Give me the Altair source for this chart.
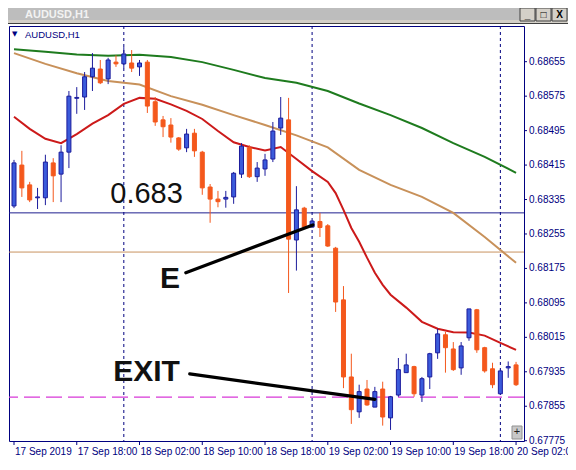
import altair as alt
import pandas as pd

# ---------------- data ----------------
bar_index = list(range(65))
open_ = [0.68320, 0.68415, 0.68369, 0.68339, 0.68339, 0.68420, 0.68394, 0.68445, 0.68570, 0.68573,
         0.68620, 0.68638, 0.68615, 0.68654, 0.68650, 0.68652, 0.68643, 0.68654, 0.68562, 0.68520,
         0.68508, 0.68478, 0.68455, 0.68489, 0.68445, 0.68364, 0.68336, 0.68336, 0.68341, 0.68394,
         0.68455, 0.68388, 0.68406, 0.68429, 0.68501, 0.68520, 0.68241, 0.68315, 0.68271, 0.68284,
         0.68274, 0.68222, 0.68102, 0.67923, 0.67842, 0.67895, 0.67853, 0.67895, 0.67828, 0.67881,
         0.67933, 0.67947, 0.67881, 0.67923, 0.67979, 0.68021, 0.67988, 0.67944, 0.68014, 0.68079,
         0.67991, 0.67942, 0.67884, 0.67944, 0.67951]
high = [0.68427, 0.68448, 0.68376, 0.68362, 0.68439, 0.68431, 0.68461, 0.68587, 0.68596, 0.68631,
        0.68675, 0.68659, 0.68664, 0.68670, 0.68689, 0.68682, 0.68659, 0.68659, 0.68573, 0.68529,
        0.68524, 0.68480, 0.68499, 0.68499, 0.68448, 0.68371, 0.68355, 0.68355, 0.68399, 0.68466,
        0.68461, 0.68422, 0.68441, 0.68515, 0.68573, 0.68571, 0.68366, 0.68318, 0.68286, 0.68304,
        0.68278, 0.68225, 0.68134, 0.67977, 0.67905, 0.67916, 0.67900, 0.67912, 0.67879, 0.67967,
        0.67977, 0.67949, 0.67923, 0.67979, 0.68035, 0.68028, 0.68004, 0.68004, 0.68081, 0.68081,
        0.67993, 0.67956, 0.67942, 0.67959, 0.67958]
low = [0.68315, 0.68341, 0.68329, 0.68313, 0.68322, 0.68329, 0.68329, 0.68408, 0.68534, 0.68543,
       0.68587, 0.68603, 0.68603, 0.68643, 0.68640, 0.68631, 0.68622, 0.68536, 0.68506, 0.68480,
       0.68467, 0.68448, 0.68445, 0.68434, 0.68346, 0.68281, 0.68317, 0.68316, 0.68325, 0.68385,
       0.68385, 0.68376, 0.68390, 0.68422, 0.68485, 0.68118, 0.68170, 0.68269, 0.68270, 0.68248,
       0.68225, 0.68074, 0.67897, 0.67814, 0.67828, 0.67856, 0.67853, 0.67810, 0.67800, 0.67877,
       0.67933, 0.67877, 0.67865, 0.67895, 0.67965, 0.67933, 0.67937, 0.67928, 0.68007, 0.67979,
       0.67933, 0.67897, 0.67881, 0.67921, 0.67902]
close = [0.68420, 0.68362, 0.68334, 0.68341, 0.68422, 0.68390, 0.68445, 0.68575, 0.68572, 0.68620,
         0.68640, 0.68606, 0.68659, 0.68650, 0.68673, 0.68640, 0.68652, 0.68552, 0.68515, 0.68504,
         0.68480, 0.68452, 0.68487, 0.68448, 0.68362, 0.68336, 0.68330, 0.68340, 0.68396, 0.68459,
         0.68388, 0.68408, 0.68427, 0.68494, 0.68524, 0.68243, 0.68311, 0.68271, 0.68285, 0.68270,
         0.68227, 0.68097, 0.67923, 0.67847, 0.67889, 0.67858, 0.67889, 0.67830, 0.67877, 0.67940,
         0.67951, 0.67884, 0.67919, 0.67977, 0.68023, 0.67991, 0.67940, 0.67995, 0.68081, 0.67986,
         0.67937, 0.67905, 0.67937, 0.67947, 0.67905]

ma_green_idx = [0, 4, 8, 12, 16, 20, 24, 28, 32, 36, 40, 44, 48, 52, 56, 60, 64]
ma_green = [0.68684, 0.68678, 0.68672, 0.68669, 0.68671, 0.68666, 0.68654, 0.68636, 0.68617,
            0.68606, 0.68587, 0.68558, 0.68531, 0.68501, 0.68466, 0.68434, 0.68397]
ma_tan_idx = [0, 4, 8, 12, 16, 20, 24, 28, 32, 36, 40, 44, 48, 52, 56, 60, 64]
ma_tan = [0.68675, 0.68650, 0.68628, 0.68610, 0.68602, 0.68575, 0.68555, 0.68531, 0.68508,
          0.68484, 0.68456, 0.68404, 0.68369, 0.68341, 0.68304, 0.68248, 0.68188]
ma_red_idx = [0, 2, 4, 6, 8, 10, 12, 14, 16, 18, 20, 22, 24, 26, 28, 30, 32, 34, 36, 38, 40,
              41, 42, 43, 44, 45, 46, 47, 48, 50, 52, 54, 56, 58, 60, 62, 64]
ma_red = [0.68527, 0.68499, 0.68476, 0.68466, 0.68487, 0.68511, 0.68531, 0.68557, 0.68571,
          0.68569, 0.68556, 0.68541, 0.68522, 0.68494, 0.68468, 0.68457, 0.68449, 0.68457,
          0.68429, 0.68401, 0.68376, 0.68350, 0.68311, 0.68269, 0.68237, 0.68200, 0.68165,
          0.68137, 0.68114, 0.68084, 0.68051, 0.68035, 0.68027, 0.68026, 0.68019, 0.68002, 0.67986]

level_blue = 0.68304
level_tan = 0.68213
level_exit = 0.67876
separator_idx = [14, 38, 62]

x_tick_idx = [0, 8, 16, 24, 32, 40, 48, 56, 64]
x_tick_labels = ["17 Sep 2019", "17 Sep 18:00", "18 Sep 02:00", "18 Sep 10:00", "18 Sep 18:00",
                 "19 Sep 02:00", "19 Sep 10:00", "19 Sep 18:00", "20 Sep 02:00"]
y_ticks = [0.67775, 0.67855, 0.67935, 0.68015, 0.68095, 0.68175, 0.68255, 0.68335, 0.68415,
           0.68495, 0.68575, 0.68655]
y_tick_labels = ["0.67775", "0.67855", "0.67935", "0.68015", "0.68095", "0.68175", "0.68255",
                 "0.68335", "0.68415", "0.68495", "0.68575", "0.68655"]

note_texts = ["0.683", "E", "EXIT"]
note_idx = [16.9, 19.9, 16.9]
note_price = [0.68327, 0.68130, 0.67914]
arrow_idx = [[21.9, 38.1], [22.4, 46.0]]
arrow_price = [[0.68165, 0.68276], [0.67930, 0.67871]]

# ---------------- styling ----------------
W, H = 515, 415
NAVY = "#000080"
BULL = "#3B5BDB"
BULL_EDGE = "#1C1C9C"
BEAR = "#F4581C"
FONT = "Liberation Sans"

xs = alt.Scale(domain=[0, 64.375], nice=False, zero=False)
ys = alt.Scale(domain=[0.677743, 0.687379], nice=False, zero=False)


def X(field):
    return alt.X(field, scale=xs, axis=None)


def Y(field):
    return alt.Y(field, scale=ys, axis=None)


df = pd.DataFrame({"i": bar_index, "o": open_, "h": high, "l": low, "c": close})
base = alt.Chart(df)
is_bull = "datum.c >= datum.o"

wicks = base.mark_rule(strokeWidth=1).encode(
    x=X("i:Q"), y=Y("l:Q"), y2="h:Q",
    color=alt.condition(is_bull, alt.value(BULL_EDGE), alt.value(BEAR)),
)
bodies = base.mark_bar(size=4, strokeWidth=1).encode(
    x=X("i:Q"), y=Y("o:Q"), y2="c:Q",
    fill=alt.condition(is_bull, alt.value(BULL), alt.value(BEAR)),
    stroke=alt.condition(is_bull, alt.value(BULL_EDGE), alt.value(BEAR)),
)


def ma_layer(idx, vals, color):
    d = pd.DataFrame({"i": idx, "v": vals})
    return alt.Chart(d).mark_line(color=color, strokeWidth=2).encode(x=X("i:Q"), y=Y("v:Q"))


green = ma_layer(ma_green_idx, ma_green, "#1E7B1E")
tan = ma_layer(ma_tan_idx, ma_tan, "#C8915A")
red = ma_layer(ma_red_idx, ma_red, "#CC1A1A")


def hline(price, color, width=1.0, dash=None):
    kw = {"color": color, "strokeWidth": width}
    if dash:
        kw["strokeDash"] = dash
    return alt.Chart(pd.DataFrame({"p": [price]})).mark_rule(**kw).encode(y=Y("p:Q"))


h_blue = hline(level_blue, "#1F1F8F")
h_tan = hline(level_tan, "#C8925F")
h_exit = hline(level_exit, "#D838D8", 1.3, [16, 6])

seps = alt.Chart(pd.DataFrame({"i": separator_idx})).mark_rule(
    color=NAVY, strokeWidth=1, strokeDash=[3, 3]).encode(x=X("i:Q"))

notes_df = pd.DataFrame({"t": note_texts, "i": note_idx, "p": note_price})
note_plain = alt.Chart(notes_df.iloc[[0]]).mark_text(
    font=FONT, fontSize=29, color="#111111", align="center", baseline="alphabetic").encode(
    x=X("i:Q"), y=Y("p:Q"), text="t:N")
note_bold = alt.Chart(notes_df.iloc[[1, 2]]).mark_text(
    font=FONT, fontSize=30, fontWeight="bold", color="#111111", align="center",
    baseline="alphabetic").encode(x=X("i:Q"), y=Y("p:Q"), text="t:N")

arrows = []
for k in range(len(arrow_idx)):
    d = pd.DataFrame({"i": arrow_idx[k], "p": arrow_price[k]})
    arrows.append(alt.Chart(d).mark_line(color="#000000", strokeWidth=3.2, strokeCap="round").encode(
        x=X("i:Q"), y=Y("p:Q")))

# ---------------- axes (drawn as marks through the scales) ----------------
xt = pd.DataFrame({"i": x_tick_idx, "t": x_tick_labels})
yt = pd.DataFrame({"p": y_ticks, "t": y_tick_labels})
x_ticks = alt.Chart(xt).mark_rule(color=NAVY, strokeWidth=1).encode(
    x=X("i:Q"), y=alt.value(H), y2=alt.value(H + 4))
x_labels = alt.Chart(xt).mark_text(font=FONT, fontSize=10, color=NAVY, align="left",
                                   baseline="top", dx=1).encode(
    x=X("i:Q"), y=alt.value(H + 6), text="t:N")
y_ticks_m = alt.Chart(yt).mark_rule(color=NAVY, strokeWidth=1).encode(
    y=Y("p:Q"), x=alt.value(W), x2=alt.value(W + 3))
y_labels = alt.Chart(yt).mark_text(font=FONT, fontSize=10, color=NAVY, align="left",
                                   baseline="middle").encode(
    y=Y("p:Q"), x=alt.value(W + 5), text="t:N")

# ---------------- window chrome (decoration) ----------------
one = alt.Data(values=[{}])
chrome = [
    alt.Chart(one).mark_rect(color="#D4D0C8").encode(
        x=alt.value(-1), x2=alt.value(560), y=alt.value(-18), y2=alt.value(-3)),
    alt.Chart(one).mark_rect(color="#BDBDBD").encode(
        x=alt.value(-1), x2=alt.value(560), y=alt.value(-18), y2=alt.value(-6)),
    alt.Chart(one).mark_rule(color="#404040", strokeWidth=1).encode(
        x=alt.value(-1), x2=alt.value(560), y=alt.value(-2.5)),
    alt.Chart(one).mark_text(font=FONT, fontSize=11, fontWeight="bold", color="#F2F2F2",
                             align="left", baseline="middle", text="AUDUSD,H1").encode(
        x=alt.value(16), y=alt.value(-11.5)),
    alt.Chart(one).mark_text(font=FONT, fontSize=9.5, color=NAVY, align="left",
                             baseline="middle", text="AUDUSD,H1").encode(
        x=alt.value(16), y=alt.value(9)),
    alt.Chart(one).mark_text(font="DejaVu Sans", fontSize=7, color=NAVY, align="left",
                             baseline="middle", text="▼").encode(
        x=alt.value(3), y=alt.value(8)),
]
for bx, glyph in [(511, "_"), (527, "□"), (543, "X")]:
    chrome.append(alt.Chart(one).mark_rect(color="#D4D0C8", stroke="#404040", strokeWidth=1).encode(
        x=alt.value(bx), x2=alt.value(bx + 15), y=alt.value(-18), y2=alt.value(-5)))
    chrome.append(alt.Chart(one).mark_text(font=FONT, fontSize=10, fontWeight="bold",
                                           color="#000000", align="center", baseline="middle",
                                           text=glyph).encode(
        x=alt.value(bx + 7.5), y=alt.value(-11)))
chrome.append(alt.Chart(one).mark_rect(color="#C8C8C8", stroke="#909090", strokeWidth=1).encode(
    x=alt.value(503), x2=alt.value(513), y=alt.value(H - 15), y2=alt.value(H - 2)))
chrome.append(alt.Chart(one).mark_text(font=FONT, fontSize=11, color="#202020", align="center",
                                       baseline="middle", text="+").encode(
    x=alt.value(508), y=alt.value(H - 9)))

chart = alt.layer(
    h_blue, h_tan, h_exit, seps,
    green, tan, red,
    wicks, bodies,
    note_plain, note_bold, *arrows,
    x_ticks, x_labels, y_ticks_m, y_labels,
    *chrome,
).properties(
    width=W, height=H,
    autosize=alt.AutoSizeParams(type="none"),
    padding={"left": 1, "top": 18, "right": 44, "bottom": 19},
    background="#FFFFFF",
).configure_view(stroke=NAVY, strokeWidth=1)

chart.save("out.html", embed_options={"renderer": "svg", "actions": False})
